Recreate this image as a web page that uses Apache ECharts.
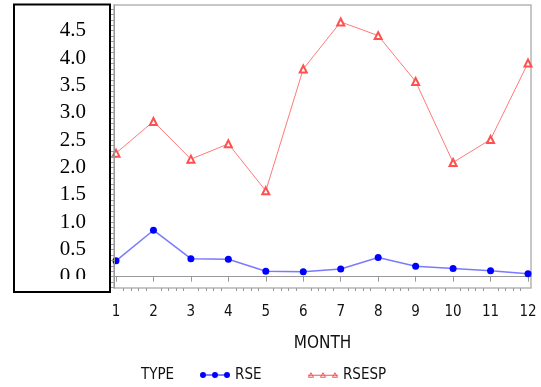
<!DOCTYPE html>
<html>
<head>
<meta charset="utf-8">
<script src="https://cdn.jsdelivr.net/npm/echarts@6/dist/echarts.min.js"></script>
<style>html,body{margin:0;padding:0;background:#fff}#c{width:541px;height:387px}</style>
</head>
<body>
<div id="c"></div>
<script>
var months = [1,2,3,4,5,6,7,8,9,10,11,12];
var rse   = [0.29,0.85,0.33,0.32,0.10,0.09,0.14,0.35,0.19,0.15,0.11,0.055];
var rsesp = [2.26,2.84,2.15,2.43,1.57,3.80,4.66,4.41,3.57,2.09,2.51,3.91];
var yTickValues = [0,0.5,1,1.5,2,2.5,3,3.5,4,4.5];
var yTickLabels = ['0.0','0.5','1.0','1.5','2.0','2.5','3.0','3.5','4.0','4.5'];
var xTickLabels = ['1','2','3','4','5','6','7','8','9','10','11','12'];

var narrow = '"DejaVu Sans",sans-serif';
var cw = 'condensed';
var minorX = [], minorY = [];
for (var i = 0; i <= 55; i++) { var v = +(1 + i * 0.2).toFixed(2); if (Math.abs(v - Math.round(v)) > 1e-6) minorX.push(v); }
for (var j = -2; j <= 49; j++) minorY.push(+(j * 0.1).toFixed(2));

var chart = echarts.init(document.getElementById('c'));
chart.setOption({
  animation: false,
  backgroundColor: '#fff',
  title: { text: 'TYPE', left: 141, top: 367, padding: 0,
    textStyle: { fontFamily: narrow, fontSize: 15, fontWeight: cw, color: '#111', lineHeight: 16 } },
  legend: {
    left: 200, top: 367, padding: 0, itemGap: 46, itemWidth: 30, itemHeight: 6,
    textStyle: { fontFamily: narrow, fontSize: 15, fontWeight: cw, color: '#111', lineHeight: 16, padding: [0,0,0,0] },
    data: [
      { name: 'RSE', icon: 'path://M6,2.6 L12,2.6 L12,3.4 L6,3.4 Z M18,2.6 L24,2.6 L24,3.4 L18,3.4 Z M0,3 A3,3 0 1 0 6,3 A3,3 0 1 0 0,3 Z M12,3 A3,3 0 1 0 18,3 A3,3 0 1 0 12,3 Z M24,3 A3,3 0 1 0 30,3 A3,3 0 1 0 24,3 Z',
        itemStyle: { color: '#0000ff', borderWidth: 0 } },
      { name: 'RSESP', icon: 'path://M0,3.5 L30,3.5 M3,1 L5.5,5.5 L0.5,5.5 Z M15,1 L17.5,5.5 L12.5,5.5 Z M27,1 L29.5,5.5 L24.5,5.5 Z',
        itemStyle: { color: '#fff', borderColor: '#ff5050', borderWidth: 1 } }
    ]
  },
  grid: { left: 114, right: 10, top: 5, bottom: 99, show: true, borderColor: '#b5b5b5', borderWidth: 1.5, containLabel: false },
  xAxis: [
    { type: 'value', min: 0.947, max: 12.08, name: 'MONTH', nameLocation: 'middle', nameGap: 47,
      nameTextStyle: { fontFamily: narrow, fontSize: 17, fontWeight: cw, color: '#111' },
      axisLine: { show: true, lineStyle: { color: '#999', width: 1 } },
      axisTick: { show: true, length: 5, customValues: months, lineStyle: { color: '#999' } },
      axisLabel: { customValues: months, margin: 17, fontFamily: narrow, fontSize: 15, fontWeight: cw, color: '#111',
        formatter: function (v) { return xTickLabels[Math.round(v) - 1]; } },
      splitLine: { show: false } },
    { type: 'value', min: 0.947, max: 12.08, position: 'bottom',
      axisLine: { show: false }, axisLabel: { show: false }, splitLine: { show: false },
      axisTick: { show: true, length: 3, customValues: minorX, lineStyle: { color: '#999' } } }
  ],
  yAxis: {
    type: 'value', min: -0.207, max: 4.97, z: 5,
    axisLine: { show: true, lineStyle: { color: '#999', width: 1 } },
    axisTick: { show: true, length: 3, customValues: minorY, lineStyle: { color: '#999' } },
    axisLabel: { customValues: yTickValues, margin: 28, fontFamily: '"Liberation Serif","Times New Roman",serif', fontSize: 21, color: '#000',
      formatter: function (v) { var k = yTickValues.indexOf(Math.round(v * 2) / 2); return k >= 0 ? yTickLabels[k] : ''; } },
    splitLine: { show: false }
  },
  graphic: [
    { type: 'rect', z: 1, shape: { x: 14, y: 4.5, width: 96, height: 287.5 }, style: { fill: '#fff', stroke: '#000', lineWidth: 2 } },
    { type: 'rect', z: 10, shape: { x: 15.5, y: 279, width: 93, height: 11.8 }, style: { fill: '#fff' } }
  ],
  series: [
    { name: 'RSE', type: 'line', data: months.map(function (m, i) { return [m, rse[i]]; }),
      symbol: 'circle', symbolSize: 7, itemStyle: { color: '#0000ff' },
      lineStyle: { color: '#7a7aff', width: 1.5 } },
    { name: 'RSESP', type: 'line', data: months.map(function (m, i) { return [m, rsesp[i]]; }),
      symbol: 'emptyTriangle', symbolSize: 7, itemStyle: { color: '#ff5050', borderColor: '#ff5050', borderWidth: 0.8 },
      lineStyle: { color: '#ff7a7a', width: 1 } }
  ]
});
</script>
</body>
</html>
